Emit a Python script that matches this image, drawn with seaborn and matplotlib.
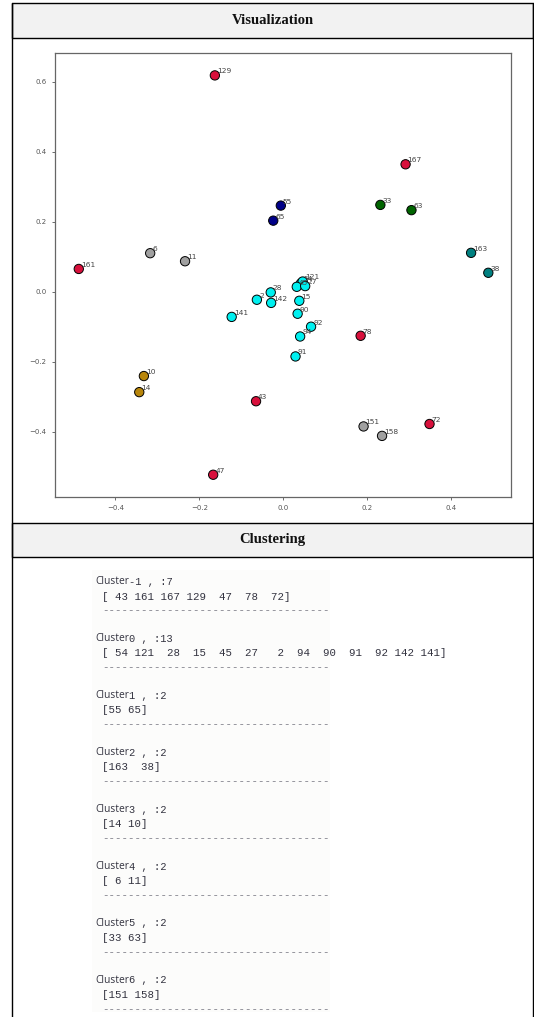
import matplotlib

matplotlib.use("Agg")
import matplotlib.pyplot as plt
import numpy as np
import pandas as pd
import seaborn as sns
from matplotlib.lines import Line2D
from matplotlib.patches import Rectangle

# points, listed per cluster in the order the console output prints them
point_ids = [43, 161, 167, 129, 47, 78, 72,
             54, 121, 28, 15, 45, 27, 2, 94, 90, 91, 92, 142, 141,
             55, 65,
             163, 38,
             14, 10,
             6, 11,
             33, 63,
             151, 158]
x_vals = [-0.065, -0.487, 0.291, -0.163, -0.167, 0.184, 0.348,
          0.042, 0.046, -0.030, 0.038, 0.032, 0.052, -0.063, 0.040, 0.034, 0.029, 0.066, -0.029, -0.123,
          -0.006, -0.024,
          0.447, 0.488,
          -0.343, -0.332,
          -0.317, -0.234,
          0.231, 0.305,
          0.191, 0.235]
y_vals = [-0.313, 0.065, 0.364, 0.618, -0.523, -0.126, -0.378,
          0.024, 0.029, -0.002, -0.026, 0.014, 0.016, -0.023, -0.128, -0.063, -0.185, -0.100, -0.032, -0.072,
          0.246, 0.203,
          0.111, 0.054,
          -0.287, -0.241,
          0.110, 0.087,
          0.248, 0.233,
          -0.385, -0.412]
cluster_ids = [-1] * 7 + [0] * 13 + [1] * 2 + [2] * 2 + [3] * 2 + [4] * 2 + [5] * 2 + [6] * 2

cluster_colors = {
    -1: "#d8103c",
    0: "#00f0f0",
    1: "#000088",
    2: "#008080",
    3: "#b8860b",
    4: "#a0a0a0",
    5: "#006400",
    6: "#a0a0a0",
}

W, H = 534, 1017


def fx(px):
    return px / W


def fy(py):
    return 1 - py / H


df = pd.DataFrame({"id": point_ids, "x": x_vals, "y": y_vals, "cluster": cluster_ids})

sns.set_style("white")
plt.rcParams["font.family"] = ["DejaVu Sans"]

fig = plt.figure(figsize=(W / 100, H / 100), dpi=100)
fig.patch.set_facecolor("white")

# table frame and header bands
for top, bottom, label in [(3, 38, "Visualization"), (523, 557, "Clustering")]:
    fig.add_artist(Rectangle((fx(12), fy(bottom)), fx(533) - fx(12), fy(top) - fy(bottom),
                             transform=fig.transFigure, facecolor="#f2f2f2",
                             edgecolor="black", linewidth=1.0))
    fig.text(fx(272.5), fy((top + bottom) / 2), label, ha="center", va="center",
             fontsize=10.5, fontweight="bold", family=["Liberation Serif"], color="#111111")
for xline in (12, 533):
    fig.add_artist(Line2D([fx(xline), fx(xline)], [fy(3), 0], transform=fig.transFigure,
                          color="black", linewidth=1.0))

# scatter
ax = fig.add_axes([fx(55), fy(497), fx(511) - fx(55), fy(53) - fy(497)])
sns.scatterplot(data=df, x="x", y="y", hue="cluster", palette=cluster_colors, s=45,
                edgecolor="black", linewidth=0.7, legend=False, ax=ax, zorder=3)
for pid, px, py in zip(df["id"], df["x"], df["y"]):
    ax.annotate(str(int(pid)), (px, py), xytext=(1.5, 1.5),
                textcoords="offset points", fontsize=5.4, color="#444444", zorder=4)

ax.set_xlim(-0.5436, 0.542)
ax.set_ylim(-0.5866, 0.682)
ax.set_xticks([-0.4, -0.2, 0.0, 0.2, 0.4])
ax.set_yticks([-0.4, -0.2, 0.0, 0.2, 0.4, 0.6])
ax.set_xlabel("")
ax.set_ylabel("")
ax.tick_params(axis="both", labelsize=5, colors="#555555", length=2.5, width=0.6,
               bottom=True, left=True)
for spine in ax.spines.values():
    spine.set_color("#666666")
    spine.set_linewidth(0.9)

# faint background of the pasted console screenshot
fig.add_artist(Rectangle((fx(92), fy(1012)), fx(330) - fx(92), fy(570) - fy(1012),
                         transform=fig.transFigure, facecolor="#fcfcfb", edgecolor="none"))

# console output of the clusters
order = [-1, 0, 1, 2, 3, 4, 5, 6]
y0 = 582
step = 56.9
for i, k in enumerate(order):
    members = np.array(df.loc[df["cluster"] == k, "id"].tolist())
    ty = y0 + i * step
    fig.text(fx(95), fy(ty), "Cluster", ha="left", va="center", fontsize=7.4,
             family=["Open Sans"], color="#333340")
    fig.text(fx(129), fy(ty), f"{k} , :{len(members)}", ha="left", va="center", fontsize=7.5,
             family=["Liberation Mono"], color="#333340")
    fig.text(fx(102), fy(ty + 14.5), str(members), ha="left", va="center", fontsize=7.75,
             family=["Liberation Mono"], color="#333340")
    fig.text(fx(102), fy(ty + 28.5), "-" * 35, ha="left", va="center", fontsize=7.75,
             family=["Liberation Mono"], color="#777782")

fig.savefig("out.png", dpi=100)
